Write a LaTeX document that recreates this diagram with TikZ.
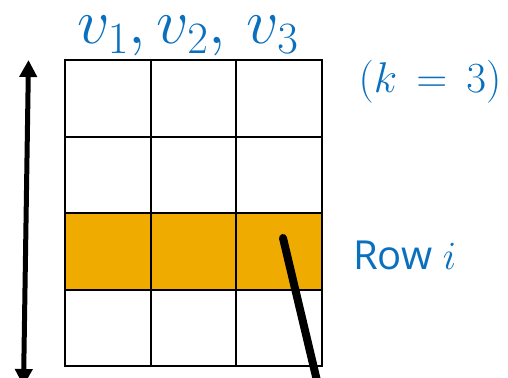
\RequirePackage{fix-cm}
\documentclass[tikz,border=0pt]{standalone}
\usepackage{fontspec}
\setsansfont{Open Sans}
\usetikzlibrary{arrows.meta}
\definecolor{hilite}{HTML}{F0AB00}
\definecolor{lblue}{HTML}{0A70BE}
\begin{document}
\begin{tikzpicture}[x=1pt,y=-1pt,
  cell/.style={draw=black,line width=2pt,minimum width=85.67pt,minimum height=76.5pt,inner sep=0pt,outer sep=0pt,anchor=north west},
  hot/.style={cell,fill=hilite},
  lbl/.style={text=lblue,inner sep=0pt}]
\useasboundingbox (0,0) rectangle (508,377);
\foreach \r in {0,1,2,3}{
  \foreach \c in {0,1,2}{
    \ifnum\r=2
      \node[hot] (c\r\c) at ({65+85.67*\c},{60+76.5*\r}) {};
    \else
      \node[cell] (c\r\c) at ({65+85.67*\c},{60+76.5*\r}) {};
    \fi
  }
}
\node[lbl,anchor=base] (vars) at (188,44) {\fontsize{64}{68}\selectfont$v_1, v_2,\, v_3$};
\node[lbl,anchor=base] (kval) at (430,93) {\fontsize{43}{46}\selectfont$(k\,=\,3)$};
\node[lbl,anchor=base west] (row) at (353,269) {\fontsize{40}{44}\selectfont\sffamily Row $i$};
\coordinate (atop) at (28.5,60);
\coordinate (abot) at (23.5,386);
\draw[line width=5pt,{Triangle[length=17pt,width=17pt]}-{Triangle[length=17pt,width=17pt]}] (atop) -- (abot);
\coordinate (ptop) at (283,238);
\coordinate (pbot) at (318,385);
\draw[line width=8pt,line cap=round] (ptop) -- (pbot);
\end{tikzpicture}
\end{document}
